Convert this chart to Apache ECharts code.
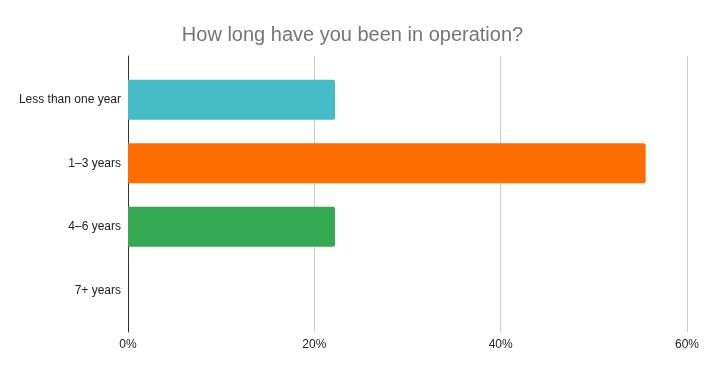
<!DOCTYPE html>
<html><head><meta charset="utf-8">
<script src="https://cdn.jsdelivr.net/npm/echarts@6/dist/echarts.min.js"></script>
<style>html,body{margin:0;padding:0;background:#fff}#c{width:705px;height:371px}</style>
</head><body><div id="c"></div>
<script>
const titleText = 'How long have you been in operation?';
const categories = ['Less than one year', '1–3 years', '4–6 years', '7+ years'];
const values = [22.22, 55.56, 22.22, 0];
const barColors = ['#46BDC6', '#FF6D01', '#34A853', '#4285F4'];
const xTicks = [0, 20, 40, 60];

const font = 'Liberation Sans, Arial, sans-serif';
const chart = echarts.init(document.getElementById('c'), null, {renderer: 'canvas'});
chart.setOption({
  animation: false,
  backgroundColor: '#fff',
  title: {
    text: titleText, left: 'center', top: 20,
    textStyle: {color: '#757575', fontSize: 20, fontWeight: 'normal', fontFamily: font}
  },
  grid: [
    {left: 128, right: 18, top: 56, bottom: 39},
    {left: 128, right: 18, top: 68, bottom: 49}
  ],
  xAxis: [
    {
      gridIndex: 0, type: 'value', min: xTicks[0], max: xTicks[xTicks.length - 1], interval: 20,
      axisLine: {show: false}, axisTick: {show: false},
      axisLabel: {formatter: '{value}%', color: '#222', fontSize: 12, fontFamily: font, margin: 7},
      splitLine: {show: true, lineStyle: {color: '#cccccc', width: 1}}
    },
    {
      gridIndex: 1, type: 'value', min: xTicks[0], max: xTicks[xTicks.length - 1], interval: 20,
      show: false
    }
  ],
  yAxis: [
    {
      gridIndex: 0, type: 'category', data: categories, inverse: true,
      axisLine: {show: true, onZero: false, lineStyle: {color: '#333', width: 1}},
      axisTick: {show: false}, axisLabel: {show: false}, splitLine: {show: false}
    },
    {
      gridIndex: 1, type: 'category', data: categories, inverse: true,
      axisLine: {show: false}, axisTick: {show: false},
      axisLabel: {color: '#222', fontSize: 12, fontFamily: font, margin: 7},
      splitLine: {show: false}
    }
  ],
  series: [{
    type: 'bar', xAxisIndex: 1, yAxisIndex: 1, barWidth: 40,
    data: values.map((v, i) => ({value: v, itemStyle: {color: barColors[i], borderRadius: [0, 2, 2, 0]}}))
  }]
});
</script></body></html>
